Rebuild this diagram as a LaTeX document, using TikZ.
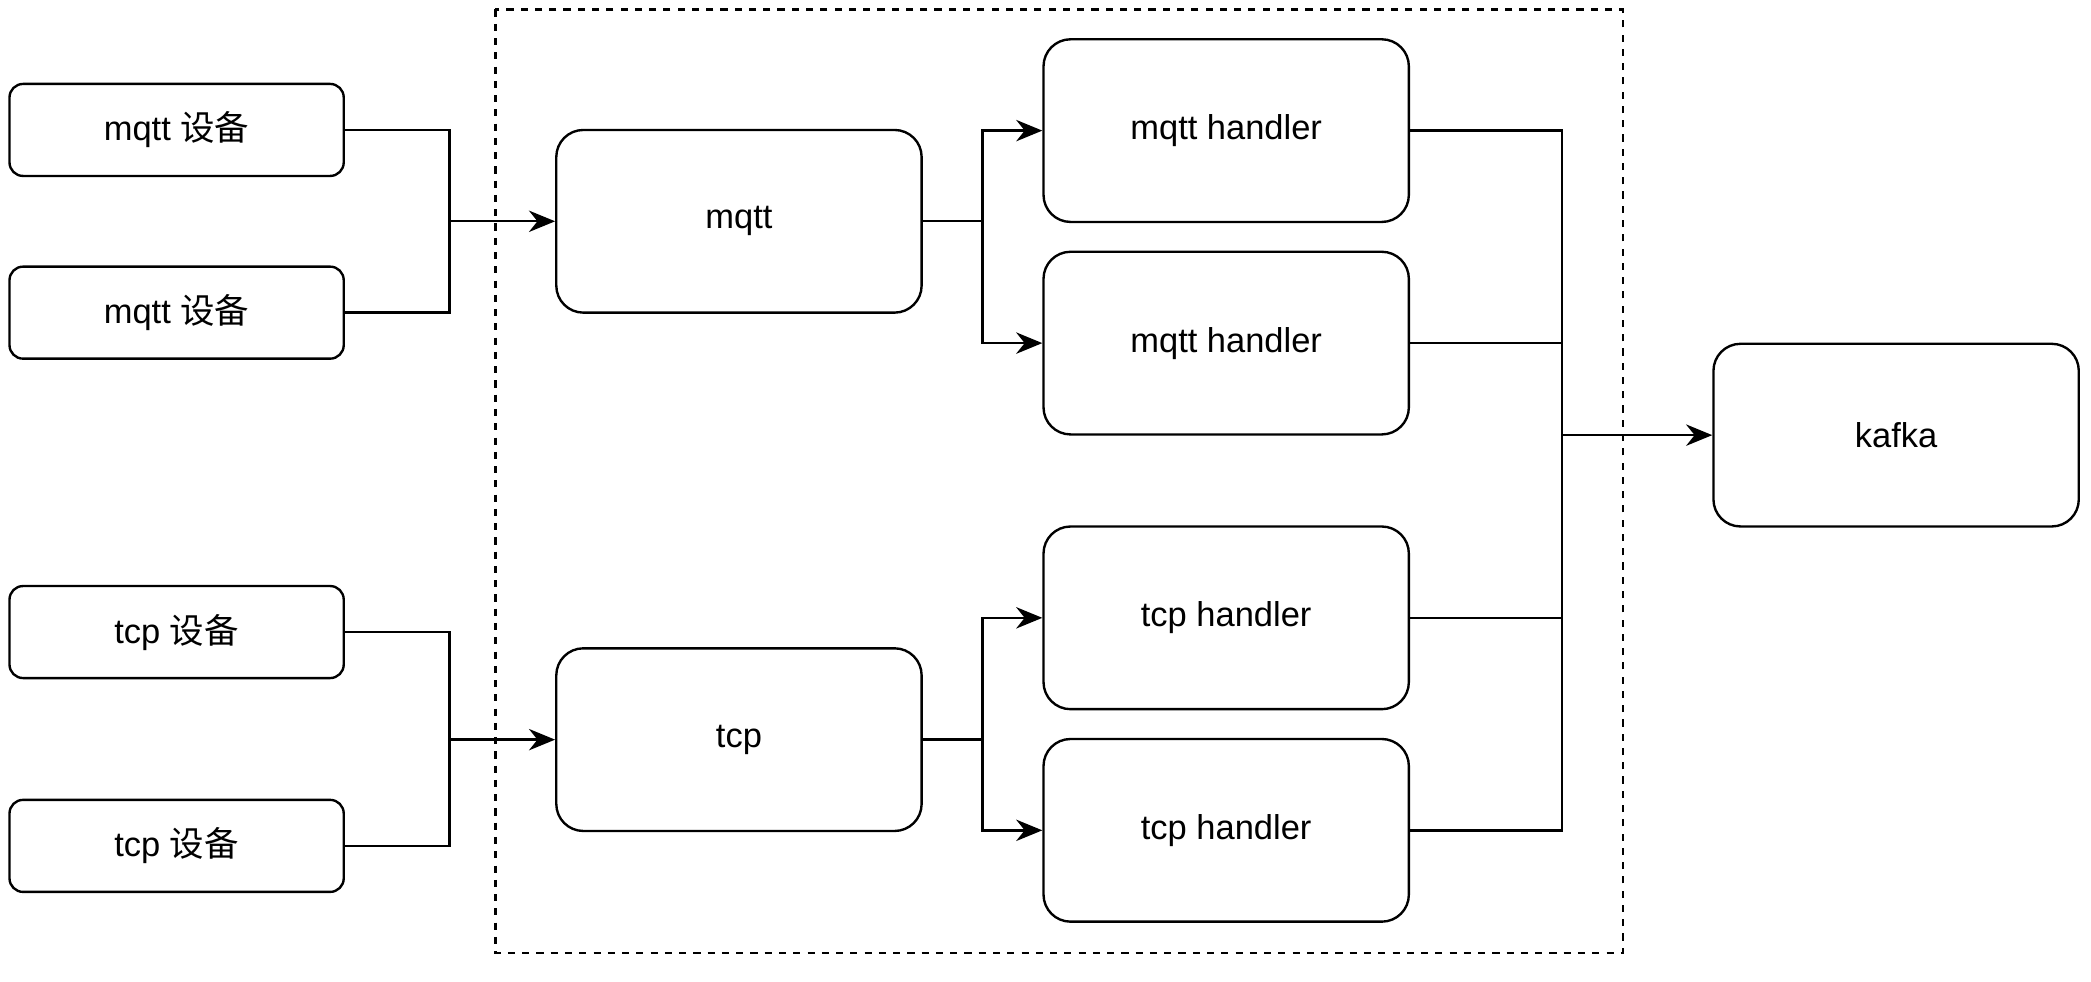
\documentclass[tikz,border=0pt]{standalone}
\usepackage{fontspec}
\setmainfont{Liberation Sans}
\newfontfamily\cjk{Noto Sans CJK SC}
\usetikzlibrary{arrows.meta}
\tikzset{
  box/.style={draw, line width=1pt, rounded corners=0.4cm, minimum width=5.4cm, minimum height=2.7cm, font=\fontsize{14.5}{17}\selectfont},
  dev/.style={box, rounded corners=0.2cm, minimum width=4.94cm, minimum height=1.36cm},
  line/.style={line width=1pt},
  arr/.style={line, -{Stealth[length=11pt,width=9pt]}}
}
\begin{document}
\begin{tikzpicture}[x=0.02cm, y=-0.02cm]
    \useasboundingbox (0,0) rectangle (1545,725);

    % Contenedor
    \draw[line, dashed] (366,7) rectangle (1199,704);

    % Dispositivos
    \node[dev] (d1) at (130.5,96) {mqtt {\cjk 设备}};
    \node[dev] (d2) at (130.5,231) {mqtt {\cjk 设备}};
    \node[dev] (d3) at (130.5,467) {tcp {\cjk 设备}};
    \node[dev] (d4) at (130.5,625) {tcp {\cjk 设备}};

    % Servicios
    \node[box] (mqtt) at (546,163.5) {mqtt};
    \node[box] (tcp) at (546,546.5) {tcp};
    \node[box] (h1) at (906,96.5) {mqtt handler};
    \node[box] (h2) at (906,253.5) {mqtt handler};
    \node[box] (h3) at (906,456.5) {tcp handler};
    \node[box] (h4) at (906,613.5) {tcp handler};
    \node[box] (kafka) at (1401,321.5) {kafka};

    % Uniones
    \coordinate (jm) at (332,163.5);
    \coordinate (jt) at (332,546.5);
    \coordinate (sm) at (726,163.5);
    \coordinate (st) at (726,546.5);
    \coordinate (jk) at (1154,321.5);

    % Conexiones
    \draw[arr] (d1.east) -| (jm) -- (mqtt.west);
    \draw[line] (d2.east) -| (jm);
    \draw[arr] (d3.east) -| (jt) -- (tcp.west);
    \draw[line] (d4.east) -| (jt);
    \draw[line] (mqtt.east) -- (sm);
    \draw[arr] (sm) |- (h1.west);
    \draw[arr] (sm) |- (h2.west);
    \draw[line] (tcp.east) -- (st);
    \draw[arr] (st) |- (h3.west);
    \draw[arr] (st) |- (h4.west);
    \draw[line] (h1.east) -| (jk);
    \draw[line] (h2.east) -| (jk);
    \draw[line] (h3.east) -| (jk);
    \draw[line] (h4.east) -| (jk);
    \draw[arr] (jk) -- (kafka.west);
\end{tikzpicture}
\end{document}
